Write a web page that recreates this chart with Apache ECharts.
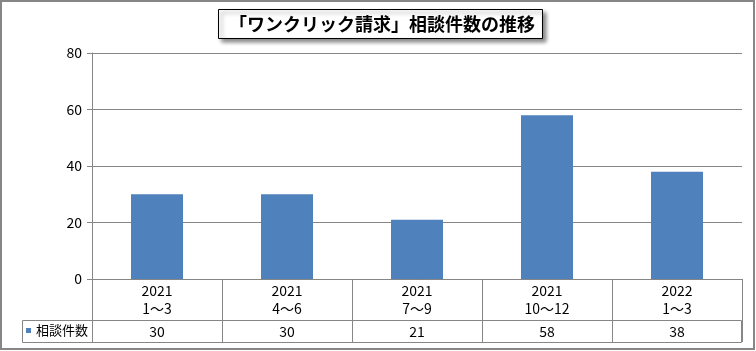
<!DOCTYPE html>
<html>
<head>
<meta charset="utf-8">
<script src="https://cdn.jsdelivr.net/npm/echarts@6/dist/echarts.min.js"></script>
<style>
  html, body { margin: 0; padding: 0; background: #fff; }
  #chart { width: 756px; height: 351px; }
</style>
</head>
<body>
<div id="chart"></div>
<script>
const titleText = "「ワンクリック請求」相談件数の推移";
const seriesName = "相談件数";
const years = ["2021", "2021", "2021", "2021", "2022"];
const periods = ["1～3", "4～6", "7～9", "10～12", "1～3"];
const counts = [30, 30, 21, 58, 38];
const yTicks = { min: 0, max: 80, step: 20 };

const FONT = "'Noto Sans CJK JP', 'Noto Sans', sans-serif";
const LINE = "#868686";

const chart = echarts.init(document.getElementById("chart"));

const categories = years.map((y, i) => y + "\n" + periods[i]);

chart.setOption({
  animation: false,
  textStyle: { fontFamily: FONT },
  title: {
    text: titleText,
    left: 218,
    top: 9,
    padding: [5, 8, 5, 11],
    backgroundColor: "#fff",
    borderColor: "#000",
    borderWidth: 1,
    shadowColor: "rgba(0,0,0,0.45)",
    shadowBlur: 4,
    shadowOffsetX: 3,
    shadowOffsetY: 3,
    textStyle: { fontFamily: FONT, fontSize: 18, fontWeight: "bold", color: "#000", lineHeight: 20 },
  },
  legend: {
    left: 26,
    top: 324,
    itemWidth: 5,
    itemHeight: 5,
    icon: "rect",
    padding: 0,
    textStyle: { fontFamily: FONT, fontSize: 13, color: "#000" },
    data: [seriesName],
  },
  grid: { left: 92, right: 14, top: 53, bottom: 72, containLabel: false },
  xAxis: [
    {
      type: "category",
      data: categories,
      axisLine: { lineStyle: { color: LINE } },
      axisTick: { show: true, interval: 0, length: 63, lineStyle: { color: LINE } },
      axisLabel: { interval: 0, margin: 3, fontSize: 14, color: "#000", lineHeight: 18 },
    },
    {
      type: "category",
      position: "bottom",
      offset: 41,
      data: counts.map(String),
      axisLine: { show: false },
      axisTick: { show: false },
      axisLabel: { interval: 0, margin: 5, fontSize: 14, color: "#000" },
    },
  ],
  yAxis: {
    type: "value",
    min: yTicks.min,
    max: yTicks.max,
    interval: yTicks.step,
    axisLine: { show: true, lineStyle: { color: LINE } },
    axisTick: { show: true, length: 5, lineStyle: { color: LINE } },
    axisLabel: { fontSize: 14, color: "#000", margin: 10 },
    splitLine: { lineStyle: { color: LINE } },
  },
  series: [
    {
      name: seriesName,
      type: "bar",
      xAxisIndex: 0,
      data: counts,
      barWidth: 52,
      itemStyle: { color: "#4F81BD" },
    },
  ],
  graphic: [
    {
      type: "rect",
      shape: { x: 22.5, y: 320.5, width: 719, height: 22 },
      style: { fill: "none", stroke: LINE, lineWidth: 1 },
      z: 10,
    },
    {
      type: "rect",
      shape: { x: 1, y: 1, width: 753, height: 348 },
      style: { fill: "none", stroke: LINE, lineWidth: 2 },
      z: 10,
    },
  ],
});
</script>
</body>
</html>
